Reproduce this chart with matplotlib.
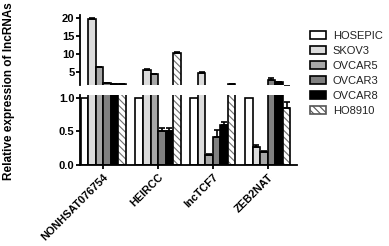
import numpy as np
import matplotlib
matplotlib.use('Agg')
from matplotlib import pyplot as plt
from matplotlib.patches import Patch

genes = ['NONHSAT076754', 'HEIRCC', 'lncTCF7', 'ZEB2NAT']
lines = ['HOSEPIC', 'SKOV3', 'OVCAR5', 'OVCAR3', 'OVCAR8', 'HO8910']

# relative expression, one list per cell line, one value per gene
hosepic = [1.0, 1.0, 1.0, 1.0]
skov3 = [19.7, 5.6, 4.7, 0.27]
ovcar5 = [6.2, 4.4, 0.15, 0.2]
ovcar3 = [1.9, 0.5, 0.42, 2.8]
ovcar8 = [1.6, 0.5, 0.6, 2.2]
ho8910 = [1.5, 10.3, 1.5, 0.84]
values = [hosepic, skov3, ovcar5, ovcar3, ovcar8, ho8910]

err_hosepic = [0, 0, 0, 0]
err_skov3 = [0.15, 0.1, 0.15, 0.03]
err_ovcar5 = [0.1, 0.1, 0.02, 0.01]
err_ovcar3 = [0.05, 0.05, 0.1, 0.35]
err_ovcar8 = [0.03, 0.05, 0.04, 0.05]
err_ho8910 = [0.03, 0.15, 0.05, 0.1]
errors = [err_hosepic, err_skov3, err_ovcar5, err_ovcar3, err_ovcar8, err_ho8910]

colors = ['white', '#dcdcdc', '#a8a8a8', '#808080', 'black', 'white']
hatches = [None, None, None, None, None, '\\\\\\\\\\']

plt.rcParams['font.family'] = 'Liberation Sans'
plt.rcParams['font.weight'] = 'bold'
plt.rcParams['hatch.linewidth'] = 0.8

fig = plt.figure(figsize=(3.89, 2.46), dpi=100)
ax_top = fig.add_axes([0.206, 0.654, 0.557, 0.285])
ax_bot = fig.add_axes([0.206, 0.329, 0.557, 0.285])

x = np.arange(len(genes))
w = 0.137
for ax in (ax_top, ax_bot):
    for i in range(len(lines)):
        pos = x + (i - 2.5) * w
        if hatches[i]:
            ax.bar(pos, values[i], w, color='white', edgecolor='#707070',
                   hatch=hatches[i], linewidth=0)
            ax.bar(pos, values[i], w, color='none', edgecolor='black', linewidth=1.2)
        else:
            ax.bar(pos, values[i], w, color=colors[i], edgecolor='black', linewidth=1.2)
        e = np.array(errors[i])
        m = e > 0
        ax.errorbar(pos[m], np.array(values[i])[m], yerr=[np.zeros(m.sum()), e[m]],
                    fmt='none', ecolor='black', elinewidth=1.2, capsize=2, capthick=1.2)
    ax.set_xlim(-0.42, 3.53)
    for s in ['top', 'right']:
        ax.spines[s].set_visible(False)
    ax.spines['left'].set_linewidth(1.3)
    ax.tick_params(axis='y', width=1.3, length=3, labelsize=8, pad=1)

ax_top.set_ylim(1.3, 20.8)
ax_top.set_yticks([5, 10, 15, 20])
ax_top.spines['bottom'].set_visible(False)
ax_top.set_xticks([])

ax_bot.set_ylim(0, 1.04)
ax_bot.set_yticks([0.0, 0.5, 1.0])
ax_bot.set_yticklabels(['0.0', '0.5', '1.0'])
ax_bot.spines['bottom'].set_linewidth(1.3)
ax_bot.set_xticks(x)
ax_bot.set_xticklabels(genes, rotation=45, ha='right', rotation_mode='anchor', fontsize=7.8)
ax_bot.tick_params(axis='x', width=1.3, length=3, pad=2)

fig.text(0.024, 0.63, 'Relative expression of lncRNAs', rotation=90,
         ha='center', va='center', fontsize=8.5, fontweight='bold')

handles = []
for i in range(len(lines)):
    if hatches[i]:
        handles.append(Patch(facecolor='white', edgecolor='#555555', hatch=hatches[i], linewidth=1.2))
    else:
        handles.append(Patch(facecolor=colors[i], edgecolor='black', linewidth=1.2))
leg = fig.legend(handles, lines, loc='upper left', bbox_to_anchor=(0.797, 0.875), frameon=False,
                 fontsize=8, handlelength=1.45, handleheight=0.75, labelspacing=0.45,
                 handletextpad=0.6, borderaxespad=0, borderpad=0)
for t in leg.get_texts():
    t.set_fontweight('normal')
    t.set_color('#222222')

fig.savefig('out.png', dpi=100)
